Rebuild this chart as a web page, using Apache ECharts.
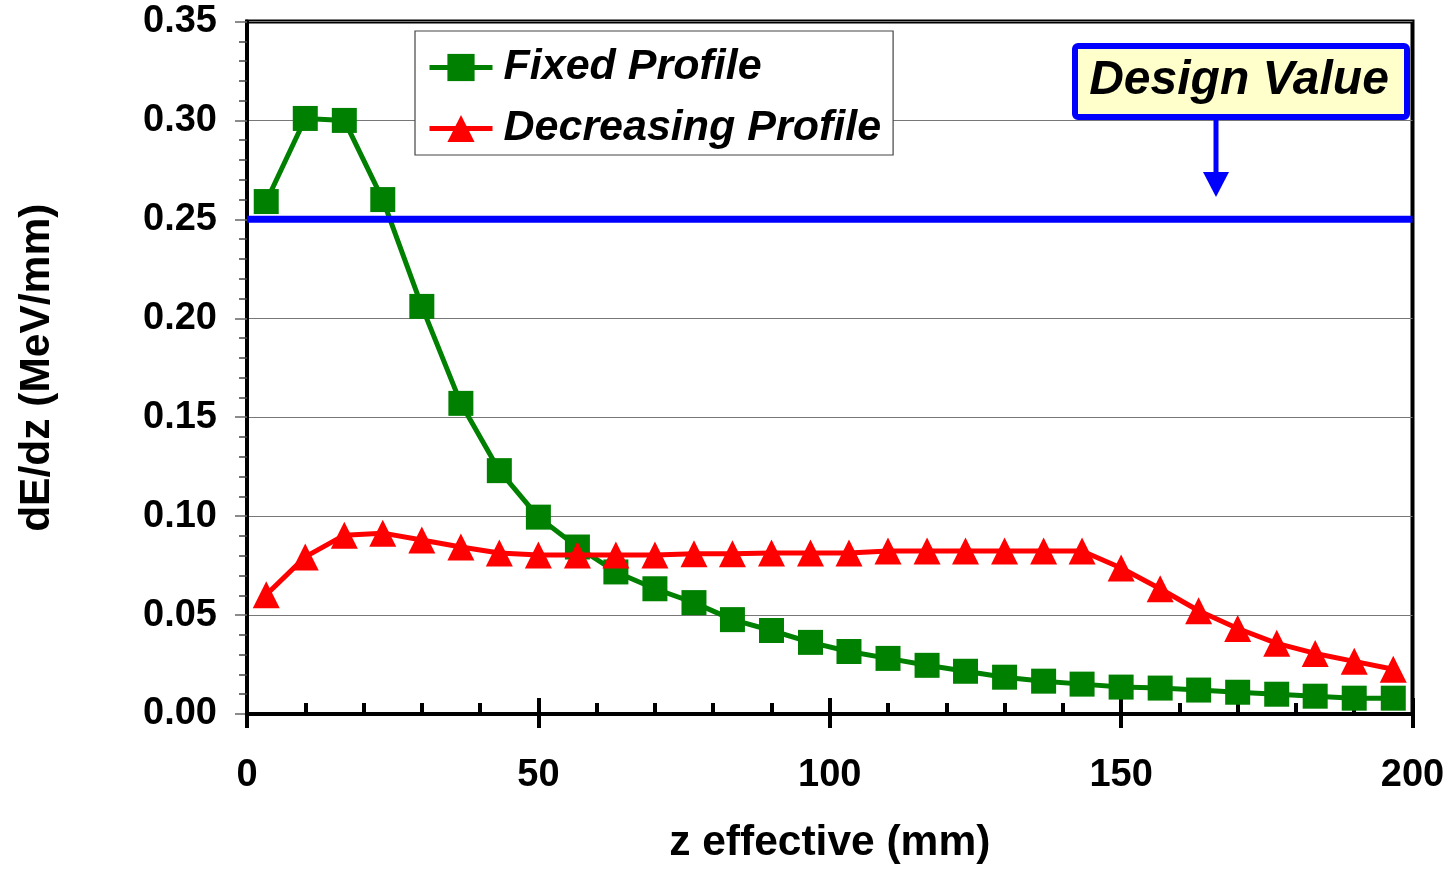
<!DOCTYPE html>
<html>
<head>
<meta charset="utf-8">
<title>dE/dz vs z effective</title>
<script src="https://cdn.jsdelivr.net/npm/echarts@6/dist/echarts.min.js"></script>
<style>
  html, body { margin: 0; padding: 0; background: #fff; overflow: hidden; }
  #chart { width: 1449px; height: 870px; }
</style>
</head>
<body>
<div id="chart"></div>
<script>
// Effective z positions (mm) of the sampled slices
const zEffective = [3.3, 10, 16.7, 23.3, 30, 36.7, 43.3, 50, 56.7, 63.3, 70, 76.7, 83.3, 90, 96.7,
  103.3, 110, 116.7, 123.3, 130, 136.7, 143.3, 150, 156.7, 163.3, 170, 176.7, 183.3, 190, 196.7];

// Energy deposition per unit length (MeV/mm)
const fixedProfile = [0.259, 0.301, 0.300, 0.260, 0.206, 0.157, 0.123, 0.0995, 0.0844, 0.0718,
  0.0633, 0.0563, 0.0477, 0.0422, 0.0362, 0.0316, 0.0281, 0.0246, 0.0216, 0.0186,
  0.0166, 0.0151, 0.0136, 0.0131, 0.0121, 0.0110, 0.0100, 0.0090, 0.0080, 0.0080];

const decreasingProfile = [0.0603, 0.0794, 0.0904, 0.0914, 0.0879, 0.0844, 0.0814, 0.0804, 0.0804, 0.0804,
  0.0804, 0.0810, 0.0810, 0.0814, 0.0814, 0.0814, 0.0824, 0.0824, 0.0824, 0.0824,
  0.0824, 0.0824, 0.0738, 0.0633, 0.0522, 0.0432, 0.0357, 0.0306, 0.0266, 0.0226];

const designValue = 0.25;
const designLabel = 'Design Value';
const seriesNames = ['Fixed Profile', 'Decreasing Profile'];
const xTitle = 'z effective (mm)';
const yTitle = 'dE/dz (MeV/mm)';

const FONT = '"Liberation Sans", Arial, Helvetica, sans-serif';
const zip = (xs, ys) => xs.map((x, i) => [x, ys[i]]);

const chart = echarts.init(document.getElementById('chart'), null, { renderer: 'canvas' });

const tickLabel = { fontFamily: FONT, fontWeight: 'bold', fontSize: 38, color: '#000' };
const titleText = { fontFamily: FONT, fontWeight: 'bold', fontSize: 42.5, color: '#000' };

const option = {
  backgroundColor: '#fff',
  animation: false,
  grid: {
    left: 247, right: 36.5, top: 21.5, bottom: 152,
    show: true, borderColor: '#000', borderWidth: 4, backgroundColor: 'transparent'
  },
  legend: {
    data: seriesNames,
    orient: 'vertical',
    left: 415, top: 31,
    padding: [15, 12, 5, 12],
    itemGap: 18,
    itemWidth: 63, itemHeight: 34,
    borderColor: '#444', borderWidth: 1.2, backgroundColor: '#fff',
    lineStyle: { width: 5 },
    textStyle: { fontFamily: FONT, fontWeight: 'bold', fontStyle: 'italic', fontSize: 43, color: '#000', padding: [0, 0, 0, 6] }
  },
  xAxis: [
    {
      type: 'value', min: 0, max: 200, interval: 50, position: 'bottom',
      name: xTitle, nameLocation: 'middle', nameGap: 108,
      nameTextStyle: titleText,
      axisLine: { show: true, lineStyle: { color: '#000', width: 4 } },
      axisTick: { show: true, inside: true, length: 16, lineStyle: { color: '#000', width: 4 } },
      minorTick: { show: true, splitNumber: 5, length: 11, lineStyle: { color: '#000', width: 4 } },
      axisLabel: Object.assign({ margin: 43 }, tickLabel),
      splitLine: { show: false }
    },
    {
      // outer half of the major x ticks
      type: 'value', min: 0, max: 200, interval: 50, position: 'bottom', offset: 0,
      axisLine: { show: false },
      axisTick: { show: true, inside: false, length: 14, lineStyle: { color: '#000', width: 4 } },
      axisLabel: { show: false },
      splitLine: { show: false }
    }
  ],
  yAxis: [
    {
      type: 'value', min: 0, max: 0.35, interval: 0.05, position: 'left',
      name: yTitle, nameLocation: 'middle', nameGap: 188, nameRotate: 90,
      nameTextStyle: titleText,
      axisLine: { show: true, lineStyle: { color: '#000', width: 4 } },
      axisTick: { show: true, inside: false, length: 12, lineStyle: { color: '#666', width: 1.5 } },
      axisLabel: Object.assign({ margin: 30, formatter: v => v.toFixed(2) }, tickLabel),
      splitLine: { show: true, lineStyle: { color: '#777', width: 1.2 } }
    },
    {
      // inner minor ticks on the y axis
      type: 'value', min: 0, max: 0.35, interval: 0.05, position: 'left', offset: 0,
      axisLine: { show: false },
      axisTick: { show: false },
      minorTick: { show: true, splitNumber: 5, length: 8, lineStyle: { color: '#444', width: 1.5 } },
      axisLabel: { show: false },
      splitLine: { show: false }
    }
  ],
  series: [
    {
      name: seriesNames[0], type: 'line', xAxisIndex: 0, yAxisIndex: 0,
      data: zip(zEffective, fixedProfile),
      symbol: 'rect', symbolSize: 25,
      lineStyle: { color: '#008000', width: 5 },
      itemStyle: { color: '#008000' },
      z: 3
    },
    {
      name: seriesNames[1], type: 'line', xAxisIndex: 0, yAxisIndex: 0,
      data: zip(zEffective, decreasingProfile),
      symbol: 'triangle', symbolSize: 27,
      lineStyle: { color: '#ff0000', width: 5 },
      itemStyle: { color: '#ff0000' },
      z: 4
    },
    {
      name: designLabel, type: 'line', xAxisIndex: 0, yAxisIndex: 0,
      data: [[0, designValue], [200, designValue]],
      symbol: 'none',
      lineStyle: { color: '#0000ff', width: 7 },
      z: 5
    }
  ],
  graphic: [
    // callout box with arrow pointing at the design line
    {
      type: 'rect', z: 100,
      shape: { x: 1075, y: 46, width: 332, height: 71, r: 3 },
      style: { fill: '#ffffcc', stroke: '#0000ff', lineWidth: 6 }
    },
    {
      type: 'text', z: 101, x: 1239, y: 81,
      style: {
        text: designLabel, fontFamily: FONT, fontWeight: 'bold', fontStyle: 'italic', fontSize: 48,
        fill: '#000', align: 'center', verticalAlign: 'middle'
      }
    },
    {
      type: 'line', z: 100,
      shape: { x1: 1216, y1: 119, x2: 1216, y2: 175 },
      style: { stroke: '#0000ff', lineWidth: 5 }
    },
    {
      type: 'polygon', z: 100,
      shape: { points: [[1203, 172], [1229, 172], [1216, 197]] },
      style: { fill: '#0000ff' }
    }
  ]
};

chart.setOption(option);
</script>
</body>
</html>
